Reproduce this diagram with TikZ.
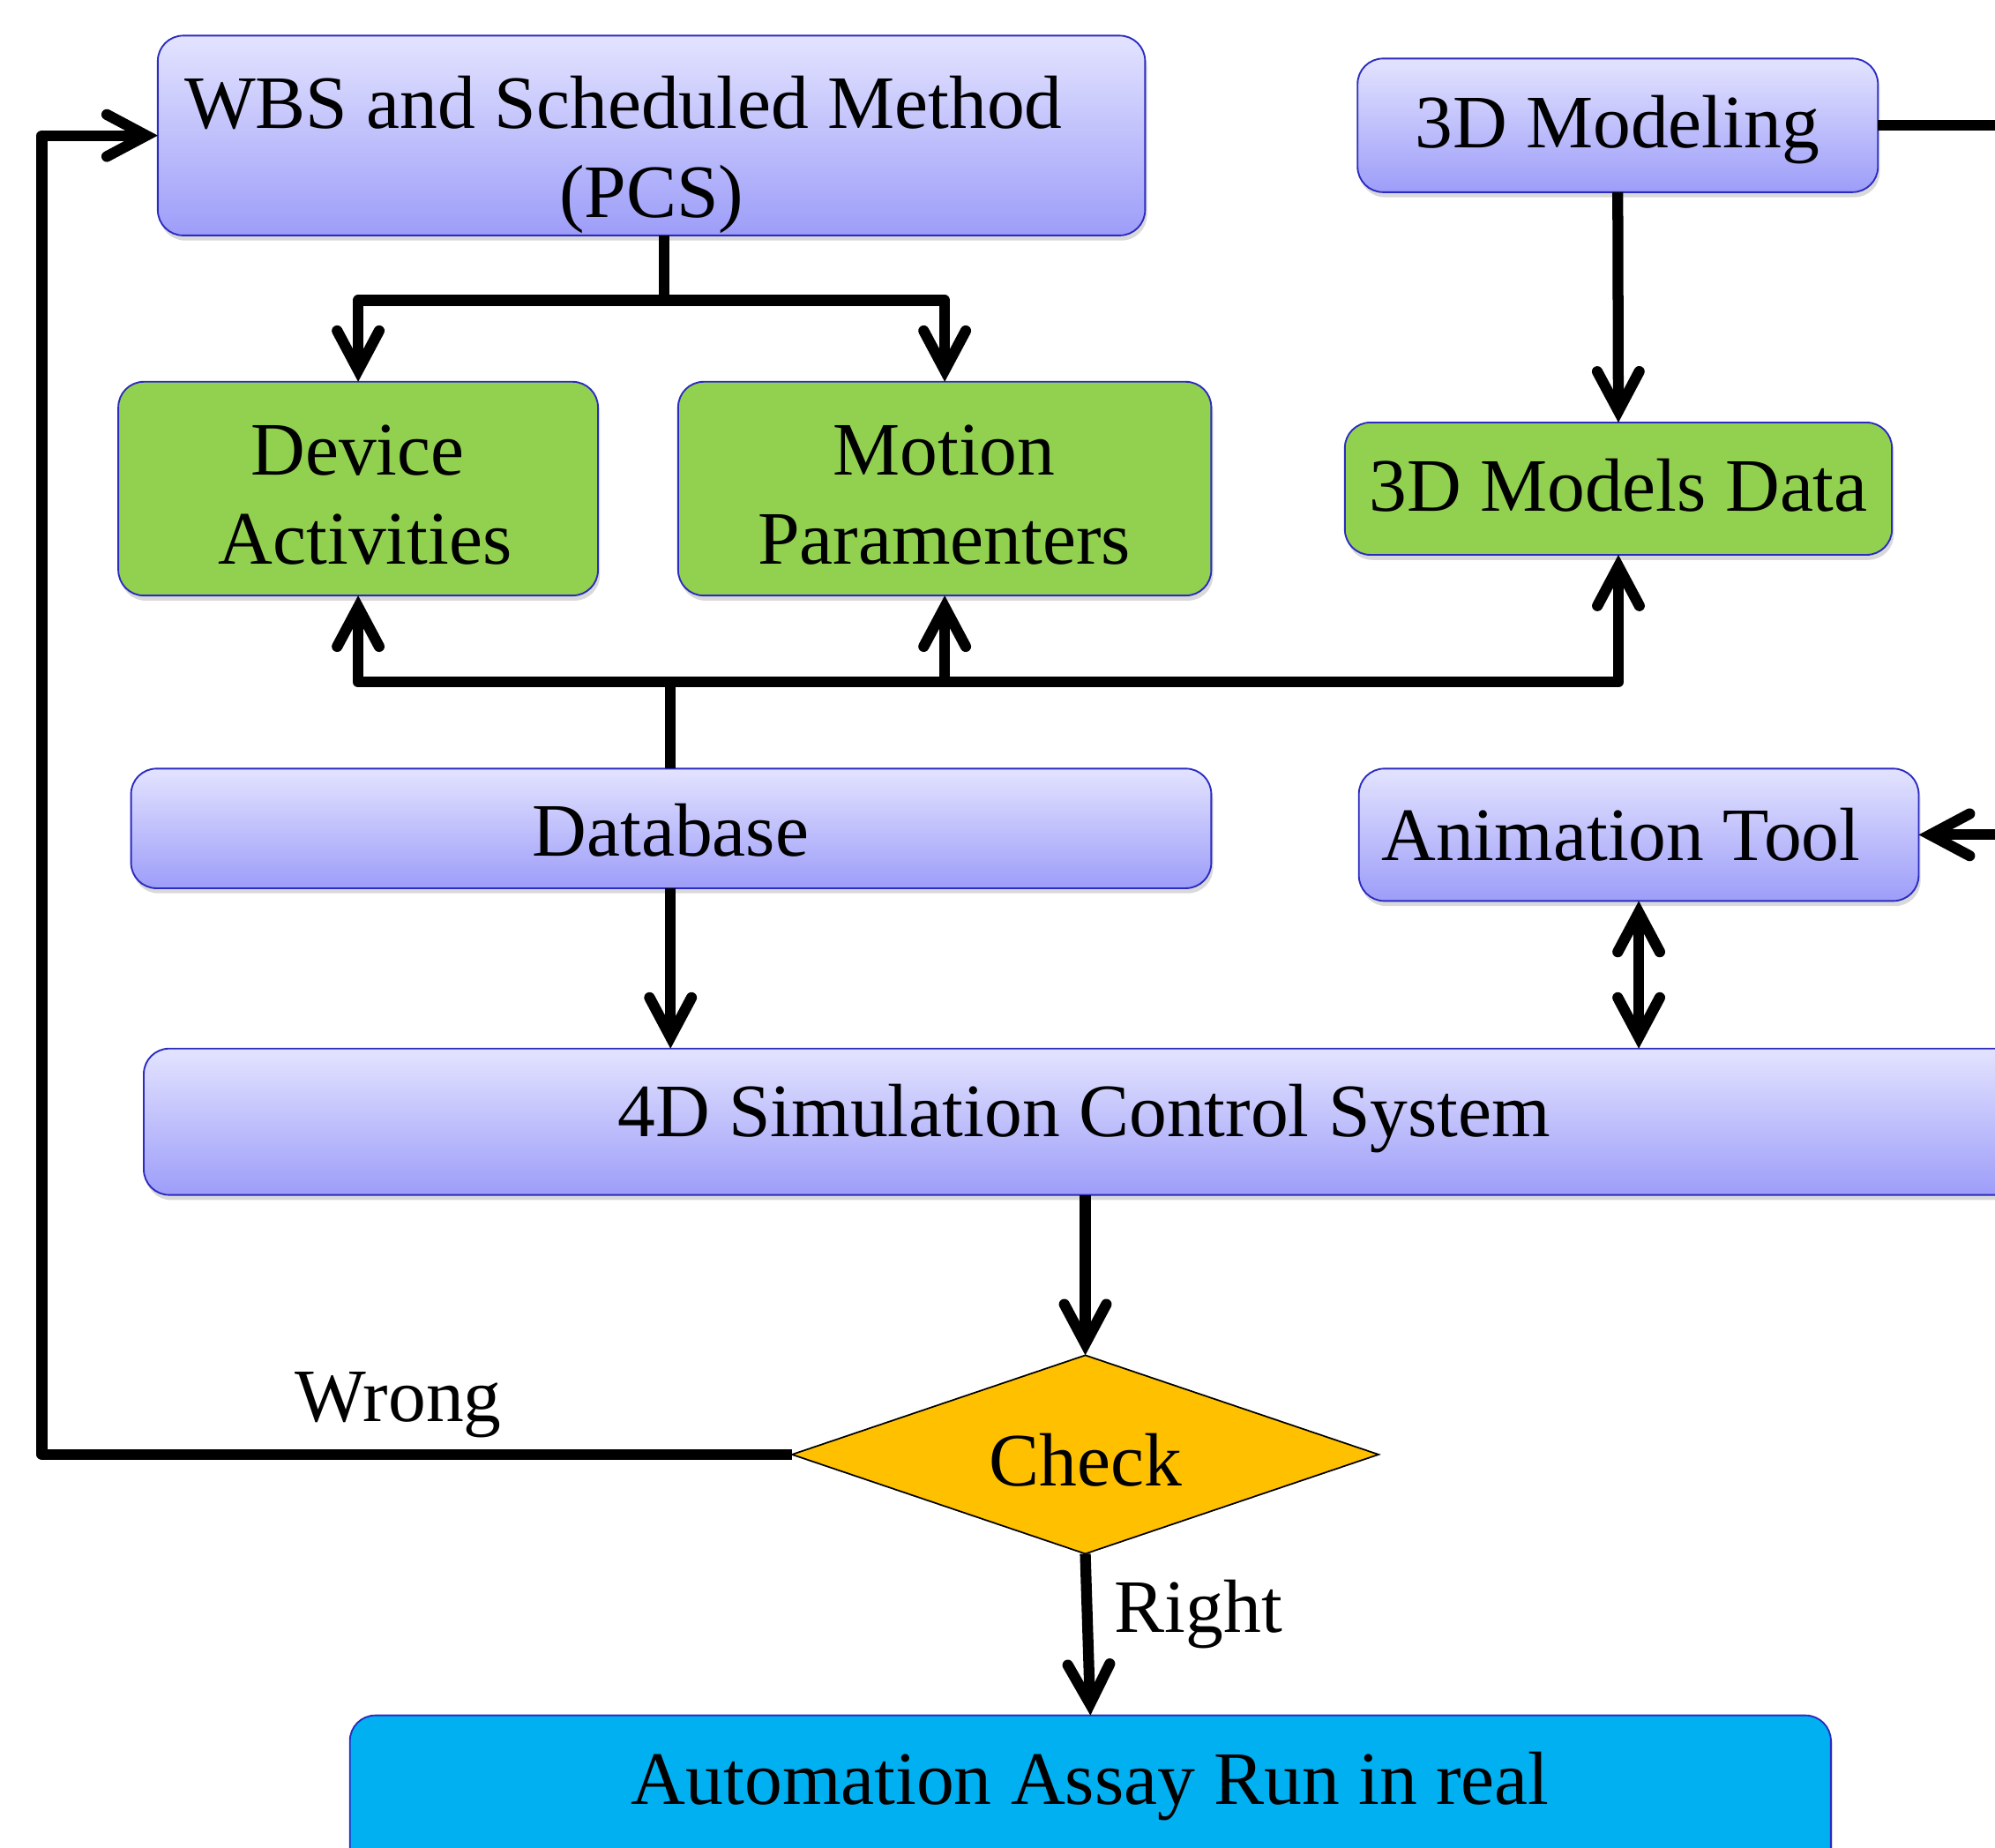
\documentclass[tikz,border=0pt]{standalone}
\usepackage{fontspec}
\setmainfont{Liberation Serif}
\usetikzlibrary{arrows.meta,shapes.geometric,shadows}
\definecolor{bTop}{HTML}{E3E3FF}
\definecolor{bBot}{HTML}{9D9DF9}
\definecolor{bEdge}{HTML}{2B2BC0}
\definecolor{gFill}{HTML}{92D050}
\definecolor{oFill}{HTML}{FFC000}
\definecolor{cFill}{HTML}{00B0F0}
\begin{document}
\begin{tikzpicture}[x=1pt,y=-1pt,
  every node/.style={inner sep=0pt, outer sep=0pt},
  boxbase/.style={rounded corners=20pt, draw=bEdge, line width=1.3pt,
    drop shadow={shadow xshift=1.5pt,shadow yshift=-4pt,opacity=0.3}},
  bluebox/.style={boxbase, top color=bTop, bottom color=bBot},
  greenbox/.style={boxbase, fill=gFill},
  txt/.style={anchor=base, font=\fontsize{59.3}{70}\selectfont},
  ln/.style={line width=8.5pt, line join=round},
  tipstyle/.style={},
  arr/.style={ln, -{Straight Barb[length=31pt,width=33pt,line cap=round,line join=miter]}},
  dblarr/.style={ln, {Straight Barb[length=31pt,width=33pt,line cap=round,line join=miter]}-{Straight Barb[length=31pt,width=33pt,line cap=round,line join=miter]}}
]
\useasboundingbox (0,0) rectangle (1568,1452);
\clip (0,0) rectangle (1568,1452);

% boxes
\node[bluebox, minimum width=776pt, minimum height=157pt] (wbs) at (512,106.5) {};
\node[bluebox, minimum width=409pt, minimum height=105pt] (mod) at (1271.5,98.5) {};
\node[greenbox, minimum width=377pt, minimum height=168pt] (dev) at (281.5,384) {};
\node[greenbox, minimum width=419pt, minimum height=168pt] (mot) at (742.5,384) {};
\node[greenbox, minimum width=430pt, minimum height=104pt] (mdata) at (1272,384) {};
\node[bluebox, minimum width=849pt, minimum height=94pt] (db) at (527.5,651) {};
\node[bluebox, minimum width=440pt, minimum height=104pt] (anim) at (1288,656) {};
\node[bluebox, minimum width=1478pt, minimum height=115pt] (sim) at (852,881.5) {};
\node[shape=diamond, draw=black, line width=1.2pt, fill=oFill, minimum width=461pt, minimum height=156pt] (chk) at (853,1143) {};
\node[boxbase, fill=cFill, minimum width=1164pt, minimum height=140pt] (auto) at (857,1418) {};

% texts
\node[txt] (t1) at (490,101) {WBS and Scheduled Method};
\node[txt] (t2) at (512,171) {(PCS)};
\node[txt] (t3) at (1271,116) {3D Modeling};
\node[txt] (t4) at (281,373) {Device};
\node[txt] (t5) at (287,443) {Activities};
\node[txt] (t6) at (742,373) {Motion};
\node[txt] (t7) at (742,443) {Paramenters};
\node[txt] (t8) at (1272,402) {3D Models Data};
\node[txt] (t9) at (527,673) {Database};
\node[txt] (t10) at (1274,676) {Animation Tool};
\node[txt] (t11) at (852,893) {4D Simulation Control System};
\node[txt] (t12) at (853,1168) {Check};
\node[txt] (t13) at (313,1117) {Wrong};
\node[txt] (t14) at (942,1283) {Right};
\node[txt] (t15) at (857,1418) {Automation Assay Run in real};

% connectors
\coordinate (j1) at (522,236);
\draw[ln] (wbs.south -| j1) -- (j1);
\draw[arr] (j1) -| (dev.north);
\draw[arr] (j1) -| (mot.north);

\draw[arr] (mod.south) -- (mdata.north);

\coordinate (j2) at (527,536);
\draw[ln] (db.north -| j2) -- (j2);
\draw[arr] (j2) -| (dev.south);
\draw[arr] (j2) -| (mot.south);
\draw[arr] (j2) -| (mdata.south);

\draw[arr] (db.south -| j2) -- (sim.north -| j2);
\draw[dblarr] (anim.south) -- (sim.north -| anim.south);
\draw[arr] (sim.south -| chk.north) -- (chk.north);
\draw[arr] (chk.south) -- (auto.north);

\coordinate (lft) at (33,1143);
\draw[arr] (chk.west) -- (lft) |- (wbs.west);

\coordinate (offA) at (1620,98.5);
\draw[ln] (mod.east) -- (offA);
\coordinate (offB) at (1620,656);
\draw[arr] (offB) -- (anim.east);
\end{tikzpicture}
\end{document}
